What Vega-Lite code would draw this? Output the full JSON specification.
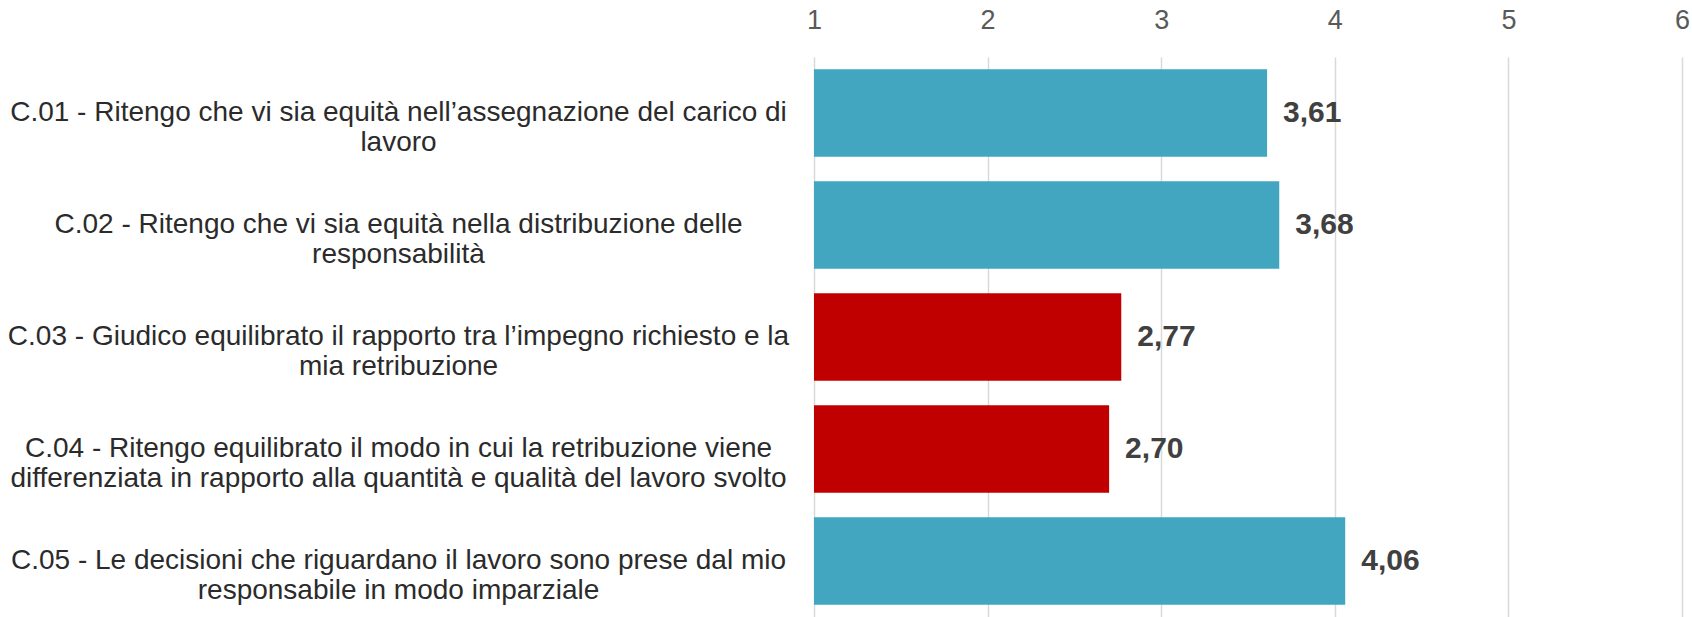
{
  "$schema": "https://vega.github.io/schema/vega-lite/v6.json",
  "width": 868,
  "height": 560,
  "autosize": "none",
  "padding": {"left": 814, "top": 57, "right": 10, "bottom": 0},
  "background": "white",
  "config": {
    "view": {"stroke": null},
    "font": "Liberation Sans",
    "locale": {"number": {"decimal": ",", "thousands": ".", "grouping": [3], "currency": ["", " €"]}}
  },
  "data": {
    "values": [
      {"item": "C.01 - Ritengo che vi sia equità nell’assegnazione del carico di|lavoro", "value": 3.61},
      {"item": "C.02 - Ritengo che vi sia equità nella distribuzione delle|responsabilità", "value": 3.68},
      {"item": "C.03 - Giudico equilibrato il rapporto tra l’impegno richiesto e la|mia retribuzione", "value": 2.77},
      {"item": "C.04 - Ritengo equilibrato il modo in cui la retribuzione viene|differenziata in rapporto alla quantità e qualità del lavoro svolto", "value": 2.70},
      {"item": "C.05 - Le decisioni che riguardano il lavoro sono prese dal mio|responsabile in modo imparziale", "value": 4.06}
    ]
  },
  "encoding": {
    "y": {
      "field": "item",
      "type": "nominal",
      "sort": null,
      "scale": {"paddingInner": 0.22, "paddingOuter": 0.11},
      "axis": {
        "title": null,
        "domain": false,
        "ticks": false,
        "tickSize": 0,
        "labelExpr": "split(datum.label, '|')",
        "labelAlign": "center",
        "labelBaseline": "middle",
        "labelPadding": 416,
        "labelLimit": 0,
        "labelFontSize": 28,
        "labelLineHeight": 30,
        "labelColor": "#2B2B2B",
        "labelFont": "Liberation Sans"
      }
    },
    "x": {
      "field": "value",
      "type": "quantitative",
      "scale": {"domain": [1, 6], "zero": false, "nice": false},
      "axis": {
        "orient": "top",
        "title": null,
        "values": [1, 2, 3, 4, 5, 6],
        "format": "d",
        "domain": false,
        "ticks": false,
        "tickSize": 0,
        "labelPadding": 23,
        "labelFontSize": 27,
        "labelColor": "#595959",
        "labelFont": "Liberation Sans",
        "labelFlush": false,
        "grid": true,
        "gridColor": "#D9D9D9",
        "gridWidth": 1.5
      }
    }
  },
  "layer": [
    {
      "mark": {"type": "bar"},
      "encoding": {
        "x2": {"datum": 1},
        "color": {
          "condition": {"test": "datum.value < 3", "value": "#C00000"},
          "value": "#42A6C0"
        }
      }
    },
    {
      "mark": {"type": "text", "align": "left", "baseline": "middle", "dx": 16, "fontSize": 30, "fontWeight": "bold", "color": "#404040", "font": "Liberation Sans"},
      "encoding": {
        "text": {"field": "value", "type": "quantitative", "format": ".2f"}
      }
    }
  ]
}
